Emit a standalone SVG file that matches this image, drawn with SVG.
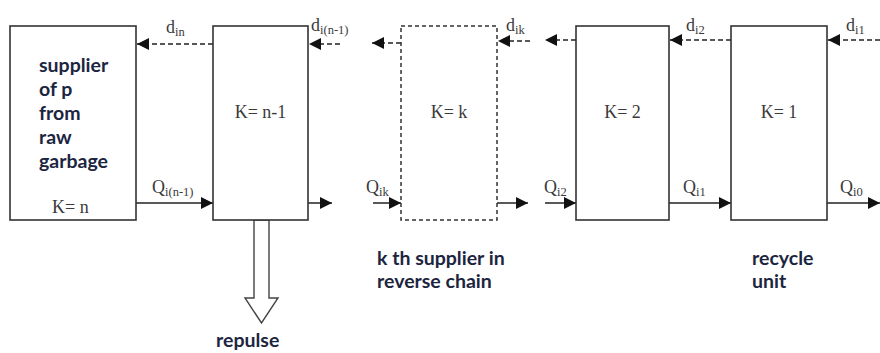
<svg xmlns="http://www.w3.org/2000/svg" width="880" height="353" viewBox="0 0 880 353">
<defs>
<marker id="ah" viewBox="0 0 12 12" refX="12" refY="6" markerWidth="12" markerHeight="12" markerUnits="userSpaceOnUse" orient="auto">
<path d="M0,0 L12,6 L0,12 Z" fill="#111"/>
</marker>
</defs>
<style>
.box{fill:#fff;stroke:#333;stroke-width:1.6}
.dbox{fill:#fff;stroke:#333;stroke-width:1.5;stroke-dasharray:4 3}
.ln{stroke:#222;stroke-width:1.5;fill:none;marker-end:url(#ah)}
.dl{stroke:#222;stroke-width:1.5;fill:none;stroke-dasharray:5 3;marker-end:url(#ah)}
.t{font-family:"Liberation Serif",serif;font-size:18px;fill:#3a3a3a}
.s{font-size:12.5px}
.b{font-family:Lato,"Liberation Sans",sans-serif;font-weight:bold;font-size:19.5px;fill:#1c2540}
</style>
<g id="connectors">
<line class="dl" x1="213" y1="44" x2="137" y2="44"/>
<line class="dl" x1="340" y1="44" x2="309" y2="44"/>
<line class="dl" x1="401" y1="43" x2="372" y2="43"/>
<line class="dl" x1="530" y1="41" x2="498" y2="41"/>
<line class="dl" x1="576" y1="40" x2="545" y2="40"/>
<line class="dl" x1="731" y1="40" x2="670" y2="40"/>
<line class="dl" x1="880" y1="40" x2="828" y2="40"/>
<line class="ln" x1="136" y1="203" x2="213" y2="203"/>
<line class="ln" x1="308" y1="203" x2="332" y2="203"/>
<line class="ln" x1="373" y1="203" x2="401" y2="203"/>
<line class="ln" x1="497" y1="203" x2="528" y2="203"/>
<line class="ln" x1="545" y1="203" x2="576" y2="203"/>
<line class="ln" x1="669" y1="203" x2="731" y2="203"/>
<line class="ln" x1="827" y1="203" x2="880" y2="203"/>
<polygon points="254,220 269,220 269,298 278,298 261.5,323 245,298 254,298" fill="#fff" stroke="#444" stroke-width="1.4"/>
<text class="t" x="166" y="33">d<tspan class="s" dy="3">in</tspan></text>
<text class="t" x="311" y="31">d<tspan class="s" dy="3">i(n-1)</tspan></text>
<text class="t" x="506" y="31">d<tspan class="s" dy="3">ik</tspan></text>
<text class="t" x="686" y="31">d<tspan class="s" dy="3">i2</tspan></text>
<text class="t" x="846" y="31">d<tspan class="s" dy="3">i1</tspan></text>
<text class="t" x="152" y="193">Q<tspan class="s" dy="3">i(n-1)</tspan></text>
<text class="t" x="366" y="193">Q<tspan class="s" dy="3">ik</tspan></text>
<text class="t" x="544" y="193">Q<tspan class="s" dy="3">i2</tspan></text>
<text class="t" x="683" y="193">Q<tspan class="s" dy="3">i1</tspan></text>
<text class="t" x="840" y="193">Q<tspan class="s" dy="3">i0</tspan></text>
</g>
<g id="node-n">
<rect class="box" x="10" y="26" width="126" height="194"/>
<text class="b" x="39" y="72">supplier</text>
<text class="b" x="39" y="96">of p</text>
<text class="b" x="39" y="120">from</text>
<text class="b" x="39" y="144">raw</text>
<text class="b" x="39" y="168">garbage</text>
<text class="t" x="52" y="213">K= n</text>
</g>
<g id="node-n1">
<rect class="box" x="213" y="26" width="95" height="194"/>
<text class="t" x="260.5" y="118" text-anchor="middle">K= n-1</text>
</g>
<g id="node-k">
<rect class="dbox" x="401" y="26" width="96" height="194"/>
<text class="t" x="449" y="118" text-anchor="middle">K= k</text>
</g>
<g id="node-2">
<rect class="box" x="576" y="26" width="93" height="194"/>
<text class="t" x="622.5" y="118" text-anchor="middle">K= 2</text>
</g>
<g id="node-1">
<rect class="box" x="731" y="26" width="96" height="194"/>
<text class="t" x="779" y="118" text-anchor="middle">K= 1</text>
</g>
<g id="labels">
<text class="b" x="216" y="347">repulse</text>
<text class="b" x="377" y="265">k th supplier in</text>
<text class="b" x="377" y="288">reverse chain</text>
<text class="b" x="752" y="265">recycle</text>
<text class="b" x="752" y="288">unit</text>
</g>
</svg>
